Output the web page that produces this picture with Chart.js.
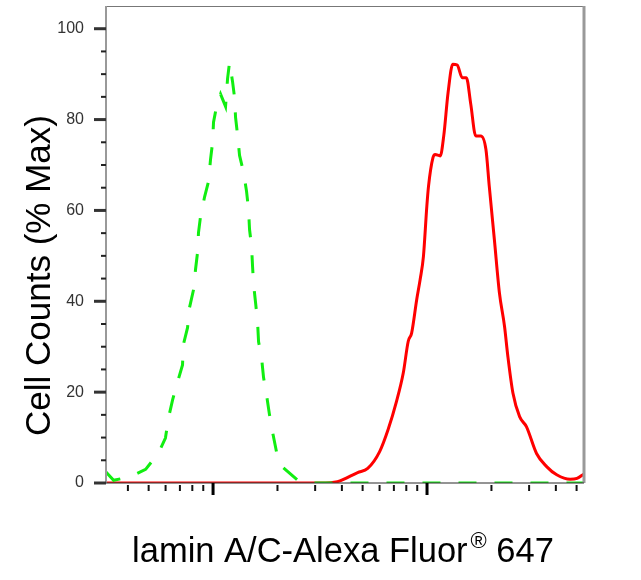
<!DOCTYPE html>
<html>
<head>
<meta charset="utf-8">
<script src="https://cdn.jsdelivr.net/npm/chart.js@4"></script>
<style>
  html, body { margin: 0; padding: 0; background: #fff; }
  #wrap { width: 641px; height: 580px; position: relative; }
</style>
</head>
<body>
<div id="wrap"><canvas id="histChart"></canvas></div>
<script>
// данные гистограмм (x - интенсивность, лог шкала; y - % от максимума)
const greenX = [31.6, 34.3, 41.2, 48.4, 55.6, 59.9, 61.9, 64.7, 68.3, 72.0, 72.6, 76.0, 77.6, 81.1, 82.8, 84.6, 85.5, 87.4, 91.3, 95.3, 97.3, 99.5, 100.5, 103.8, 108.4, 114.4, 116.9, 119.4, 123.3, 126.0, 127.4, 130.1, 133.0, 138.8, 143.4, 146.5, 148.1, 151.4, 153.0, 154.7, 158.0, 161.4, 163.2, 168.5, 172.2, 177.8, 183.6, 189.7, 198.1, 211.3, 247.4, 275.6, 5415];
const greenY = [2.4, 0.6, 1.4, 3.0, 6.6, 9.9, 14.3, 18.3, 22.3, 26.0, 30.4, 34.2, 38.6, 42.6, 47.0, 50.7, 55.1, 58.7, 63.0, 66.4, 71.2, 75.0, 79.4, 82.9, 85.6, 82.9, 89.0, 92.6, 88.4, 84.9, 80.5, 76.7, 72.1, 68.4, 64.2, 60.2, 55.8, 52.0, 47.6, 43.7, 39.7, 35.5, 31.1, 27.6, 23.2, 19.4, 15.0, 11.2, 6.8, 3.5, 0.7, 0, 0];

const redX = [31.6, 317.9, 381.3, 473.9, 528.3, 600.6, 657.3, 719.6, 774.3, 817.0, 847.3, 895.1, 928.6, 962.1, 997.8, 1016, 1066, 1092, 1153, 1197, 1254, 1319, 1384, 1461, 1527, 1601, 1689, 1784, 1885, 1954, 2064, 2180, 2302, 2386, 2520, 2708, 2914, 3249, 3622, 4037, 4668, 5022, 5415];
const redY = [0, 0, 0.3, 2.3, 3.2, 6.9, 11.7, 17.9, 24.2, 31.2, 33.0, 40.4, 44.8, 49.9, 60.9, 65.3, 71.6, 72.3, 72.0, 76.4, 85.9, 92.2, 92.0, 89.2, 89.2, 83.4, 76.4, 76.4, 73.4, 65.3, 53.6, 41.8, 34.5, 27.9, 19.8, 14.6, 12.4, 6.5, 3.6, 1.8, 0.8, 1.0, 2.0];

// деления осей
const yMajorTicks = [0, 20, 40, 60, 80, 100];
const yMinorTicks = [5, 10, 15, 25, 30, 35, 45, 50, 55, 65, 70, 75, 85, 90, 95];
const xMajorTicks = [100, 1000];
const xMinorTicks = [40, 50, 60, 70, 80, 90, 200, 300, 400, 500, 600, 700, 800, 900, 2000, 3000, 4000, 5000];

const xMin = 31.6, xMax = 5415, yMin = 0, yMax = 105;

const yTitle = 'Cell Counts (% Max)';
const xTitleMain = 'lamin A/C-Alexa Fluor';
const xTitleSup = '®';
const xTitleEnd = ' 647';

const FONT = '"Liberation Sans", Arial, sans-serif';

const toPoints = (xs, ys) => xs.map((x, i) => ({ x: x, y: ys[i] }));

// рамка, засечки и подписи осей
const framePlugin = {
    id: 'frame',
    afterDatasetsDraw(chart) {
        const { ctx, chartArea: a, scales } = chart;
        const xs = scales.x, ys = scales.y;
        ctx.save();

        // рамка
        ctx.strokeStyle = '#777';
        ctx.lineWidth = 1;
        ctx.beginPath(); ctx.moveTo(a.left, a.top + 0.5); ctx.lineTo(a.right, a.top + 0.5); ctx.stroke();
        ctx.strokeStyle = '#999';
        ctx.lineWidth = 2;
        ctx.beginPath(); ctx.moveTo(a.left, a.top); ctx.lineTo(a.left, a.bottom); ctx.stroke();
        ctx.lineWidth = 3;
        ctx.beginPath(); ctx.moveTo(a.right, a.top); ctx.lineTo(a.right, a.bottom); ctx.stroke();
        ctx.strokeStyle = 'rgba(60,60,60,0.55)';
        ctx.lineWidth = 2;
        ctx.beginPath(); ctx.moveTo(a.left, a.bottom); ctx.lineTo(a.right, a.bottom); ctx.stroke();

        // засечки Y
        yMajorTicks.forEach(v => {
            const p = ys.getPixelForValue(v);
            ctx.strokeStyle = '#333'; ctx.lineWidth = 3;
            ctx.beginPath(); ctx.moveTo(a.left - 12, p); ctx.lineTo(a.left, p); ctx.stroke();
        });
        yMinorTicks.forEach(v => {
            const p = ys.getPixelForValue(v);
            ctx.strokeStyle = '#222'; ctx.lineWidth = 2;
            ctx.beginPath(); ctx.moveTo(a.left - 5, p); ctx.lineTo(a.left, p); ctx.stroke();
        });

        // засечки X
        xMajorTicks.forEach(v => {
            const p = xs.getPixelForValue(v);
            ctx.strokeStyle = '#000'; ctx.lineWidth = 3;
            ctx.beginPath(); ctx.moveTo(p, a.bottom); ctx.lineTo(p, a.bottom + 12); ctx.stroke();
        });
        xMinorTicks.forEach(v => {
            const p = xs.getPixelForValue(v);
            ctx.strokeStyle = '#111'; ctx.lineWidth = 2;
            ctx.beginPath(); ctx.moveTo(p, a.bottom + 2); ctx.lineTo(p, a.bottom + 8); ctx.stroke();
        });

        // подпись оси Y
        ctx.fillStyle = '#000';
        ctx.font = '35px ' + FONT;
        ctx.textAlign = 'center';
        ctx.textBaseline = 'alphabetic';
        ctx.save();
        ctx.translate(a.left - 56, (a.top + a.bottom) / 2 + 31);
        ctx.rotate(-Math.PI / 2);
        ctx.fillText(yTitle, 0, 0);
        ctx.restore();

        // подпись оси X с надстрочным ®
        ctx.textAlign = 'left';
        ctx.font = '34.5px ' + FONT;
        const w1 = ctx.measureText(xTitleMain).width;
        const w3 = ctx.measureText(xTitleEnd).width;
        ctx.font = '22px ' + FONT;
        const w2 = ctx.measureText(xTitleSup).width;
        const total = w1 + 3 + w2 + w3;
        const base = a.bottom + 79;
        let x0 = (a.left + a.right) / 2 - 2 - total / 2;
        ctx.font = '34.5px ' + FONT;
        ctx.fillText(xTitleMain, x0, base);
        ctx.font = '22px ' + FONT;
        ctx.fillText(xTitleSup, x0 + w1 + 3, base - 14);
        ctx.font = '34.5px ' + FONT;
        ctx.fillText(xTitleEnd, x0 + w1 + 3 + w2, base);

        ctx.restore();
    }
};

const ctx = document.getElementById('histChart');

const chart = new Chart(ctx, {
    type: 'line',
    data: {
        datasets: [
            {
                label: 'control',
                data: toPoints(greenX, greenY),
                borderColor: '#11ee11',
                borderWidth: 3,
                borderDash: [18, 18],
                pointRadius: 0,
                fill: false,
                tension: 0
            },
            {
                label: 'lamin A/C',
                data: toPoints(redX, redY),
                borderColor: '#ff0000',
                borderWidth: 3,
                pointRadius: 0,
                fill: false,
                cubicInterpolationMode: 'monotone'
            }
        ]
    },
    options: {
        responsive: true,
        maintainAspectRatio: false,
        animation: false,
        layout: { autoPadding: false, padding: { top: 6, right: 57, left: 0, bottom: 0 } },
        scales: {
            x: {
                type: 'logarithmic',
                min: xMin,
                max: xMax,
                grid: { display: false, drawTicks: false },
                border: { display: false },
                ticks: { display: false },
                afterFit(scale) {
                    scale.height = 97;
                    scale.paddingLeft = 0; scale.paddingRight = 0;
                }
            },
            y: {
                min: yMin,
                max: yMax,
                grid: { display: false, drawTicks: false },
                border: { display: false },
                afterBuildTicks(scale) {
                    scale.ticks = yMajorTicks.map(v => ({ value: v }));
                },
                ticks: {
                    padding: 22,
                    color: '#333',
                    font: { family: FONT, size: 16 },
                    callback: v => String(v)
                },
                afterFit(scale) {
                    scale.width = 106;
                    scale.paddingTop = 0; scale.paddingBottom = 0;
                }
            }
        },
        plugins: {
            legend: { display: false },
            tooltip: { enabled: false }
        }
    },
    plugins: [framePlugin]
});
</script>
</body>
</html>
